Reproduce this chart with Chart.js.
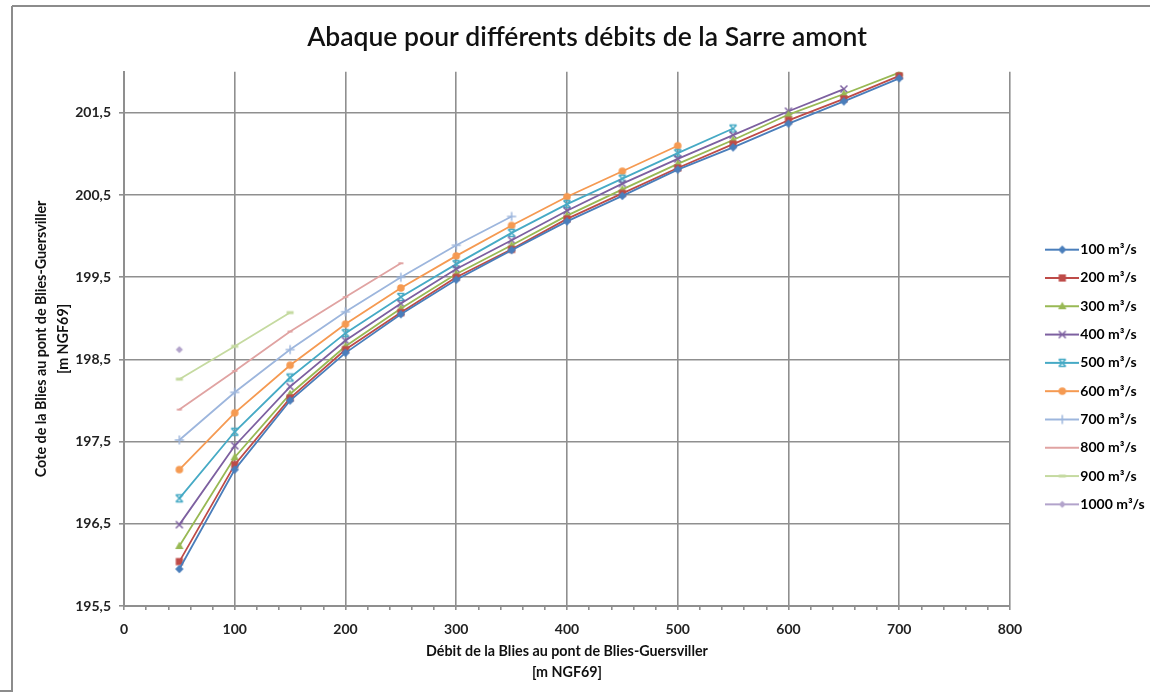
<!DOCTYPE html>
<html><head><meta charset="utf-8">
<script src="https://cdn.jsdelivr.net/npm/chart.js@4/dist/chart.umd.min.js"></script>
<style>html,body{margin:0;padding:0;background:#fff}#wrap{width:1150px;height:694px}</style>
</head><body><div id="wrap"><canvas id="c" width="1150" height="694"></canvas></div>
<script>
// ---- data ----
const flows = [50, 100, 150, 200, 250, 300, 350, 400, 450, 500, 550, 600, 650, 700];
const seriesLabels = ['100 m³/s', '200 m³/s', '300 m³/s', '400 m³/s', '500 m³/s', '600 m³/s', '700 m³/s', '800 m³/s', '900 m³/s', '1000 m³/s'];
const s100 = [195.95, 197.16, 198.00, 198.58, 199.05, 199.47, 199.83, 200.18, 200.49, 200.81, 201.08, 201.37, 201.64, 201.92];
const s200 = [196.04, 197.22, 198.03, 198.62, 199.07, 199.50, 199.84, 200.21, 200.52, 200.83, 201.12, 201.41, 201.67, 201.95];
const s300 = [196.23, 197.31, 198.08, 198.66, 199.12, 199.54, 199.89, 200.25, 200.57, 200.88, 201.17, 201.48, 201.73, 201.99];
const s400 = [196.49, 197.45, 198.17, 198.73, 199.18, 199.60, 199.95, 200.31, 200.64, 200.94, 201.23, 201.52, 201.79];
const s500 = [196.81, 197.62, 198.28, 198.82, 199.26, 199.66, 200.04, 200.39, 200.70, 201.01, 201.31];
const s600 = [197.16, 197.85, 198.43, 198.93, 199.37, 199.76, 200.13, 200.48, 200.79, 201.10];
const s700 = [197.52, 198.10, 198.62, 199.08, 199.50, 199.89, 200.24];
const s800 = [197.89, 198.36, 198.84, 199.26, 199.67];
const s900 = [198.26, 198.66, 199.07];
const s1000 = [198.62];
const seriesValues = [s100, s200, s300, s400, s500, s600, s700, s800, s900, s1000];
const yTickValues = [195.5, 196.5, 197.5, 198.5, 199.5, 200.5, 201.5];
const titleText = 'Abaque pour différents débits de la Sarre amont';
const xTitle = ['Débit de la Blies au pont de Blies-Guersviller', '[m NGF69]'];
const yTitle = ['Cote de la Blies au pont de Blies-Guersviller', '[m NGF69]'];

// ---- styles ----
const colors = ['#4a7ebb', '#be4b48', '#98b954', '#7d60a0', '#46aac5', '#f59a52', '#9db6dd', '#e0a3a2', '#c5daa0', '#b2a3cb'];
const markers = ['diamond', 'square', 'triangle', 'x', 'star', 'circle', 'plus', 'dash', 'longdash', 'smalldiamond'];
const FONT = 'Lato, "Open Sans", sans-serif';
const GRID = '#8f8f8f';
const LEGEND_W = 140, LEGEND_LEFT = 1037, LEGEND_SHIFT = 31;

function drawMarker(g, kind, cx, cy, color) {
  g.fillStyle = color; g.strokeStyle = color; g.lineWidth = 1.5;
  g.beginPath();
  switch (kind) {
    case 'diamond': g.moveTo(cx, cy - 4.2); g.lineTo(cx + 4.2, cy); g.lineTo(cx, cy + 4.2); g.lineTo(cx - 4.2, cy); g.closePath(); g.fill(); break;
    case 'smalldiamond': g.moveTo(cx, cy - 3.6); g.lineTo(cx + 3.6, cy); g.lineTo(cx, cy + 3.6); g.lineTo(cx - 3.6, cy); g.closePath(); g.fill(); break;
    case 'square': g.rect(cx - 3.6, cy - 3.6, 7.2, 7.2); g.fill(); break;
    case 'triangle': g.moveTo(cx, cy - 4.5); g.lineTo(cx + 4.2, cy + 3); g.lineTo(cx - 4.2, cy + 3); g.closePath(); g.fill(); break;
    case 'x': g.moveTo(cx - 3.5, cy - 3.5); g.lineTo(cx + 3.5, cy + 3.5); g.moveTo(cx + 3.5, cy - 3.5); g.lineTo(cx - 3.5, cy + 3.5); g.stroke(); break;
    case 'star': g.moveTo(cx - 3.5, cy - 3.5); g.lineTo(cx + 3.5, cy + 3.5); g.moveTo(cx + 3.5, cy - 3.5); g.lineTo(cx - 3.5, cy + 3.5);
      g.moveTo(cx - 3.5, cy - 3.5); g.lineTo(cx + 3.5, cy - 3.5); g.moveTo(cx - 3.5, cy + 3.5); g.lineTo(cx + 3.5, cy + 3.5); g.stroke(); break;
    case 'circle': g.arc(cx, cy, 3.8, 0, Math.PI * 2); g.fill(); break;
    case 'plus': g.moveTo(cx - 4.5, cy); g.lineTo(cx + 4.5, cy); g.moveTo(cx, cy - 4.5); g.lineTo(cx, cy + 4.5); g.stroke(); break;
    case 'dash': g.rect(cx - 2.5, cy - 1, 5, 2); g.fill(); break;
    case 'longdash': g.rect(cx - 3.5, cy - 1.5, 7, 3); g.fill(); break;
  }
}
function markerImage(kind, color) {
  const c = document.createElement('canvas'); c.width = 12; c.height = 12;
  drawMarker(c.getContext('2d'), kind, 6, 6, color); return c;
}
function legendImage(kind, color) {
  const c = document.createElement('canvas'); c.width = 34; c.height = 12;
  const g = c.getContext('2d');
  g.strokeStyle = color; g.lineWidth = 2; g.beginPath(); g.moveTo(0, 6); g.lineTo(34, 6); g.stroke();
  drawMarker(g, kind, 17, 6, color); return c;
}

const datasets = seriesValues.map((vals, i) => ({
  label: seriesLabels[i],
  data: vals.map((v, k) => ({ x: flows[k], y: v })),
  borderColor: colors[i], backgroundColor: colors[i], borderWidth: 1.8,
  pointStyle: markerImage(markers[i], colors[i]), pointRadius: 4, tension: 0, fill: false
}));
const legendImgs = markers.map((m, i) => legendImage(m, colors[i]));

const framePlugin = {
  id: 'frame',
  afterInit(chart) {
    const lg = chart.legend;
    if (lg) {
      const orig = lg.fit.bind(lg);
      lg.fit = function () { orig(); this.width = LEGEND_W; };
    }
  },
  afterLayout(chart) {
    const lg = chart.legend;
    if (lg) {
      const w = lg.right - LEGEND_LEFT; lg.left = LEGEND_LEFT; lg.width = w;
      lg.top += LEGEND_SHIFT; lg.bottom += LEGEND_SHIFT;
    }
  },
  beforeDraw(chart) {
    const g = chart.ctx; g.save();
    g.fillStyle = '#fff'; g.fillRect(0, 0, chart.width, chart.height);
    g.strokeStyle = '#8c8c8c'; g.lineWidth = 2; g.beginPath();
    g.moveTo(12, 6); g.lineTo(1150, 6); g.moveTo(12, 6); g.lineTo(12, 692); g.moveTo(0, 691); g.lineTo(12, 691);
    g.stroke(); g.restore();
  }
};

new Chart(document.getElementById('c'), {
  type: 'line',
  data: { datasets },
  plugins: [framePlugin],
  options: {
    responsive: false, animation: false,
    layout: { padding: { left: 24, top: 6, right: 0, bottom: 8 } },
    plugins: {
      tooltip: { enabled: false },
      title: { display: true, text: titleText, color: '#111', font: { family: FONT, size: 26.5, weight: '600' }, padding: { top: 16, bottom: 18 } },
      legend: {
        position: 'right',
        labels: {
          usePointStyle: true, pointStyleWidth: 22, padding: 14.3, color: '#222',
          font: { family: FONT, size: 14, weight: 'bold' },
          generateLabels: (chart) => seriesLabels.map((t, i) => ({
            text: t, pointStyle: legendImgs[i], fillStyle: colors[i], strokeStyle: colors[i], lineWidth: 0, hidden: false, datasetIndex: i
          }))
        }
      }
    },
    scales: {
      x: {
        type: 'linear', min: 0, max: 800,
        ticks: { stepSize: 20, autoSkip: false, maxRotation: 0, padding: 11, color: '#222', font: { family: FONT, size: 14, weight: 'bold' },
          callback: (v) => (v % 100 === 0 ? String(v) : '') },
        grid: { color: (c) => (c.tick && c.tick.value % 100 === 0 ? GRID : 'rgba(0,0,0,0)'), tickColor: GRID, tickLength: 4, lineWidth: 1.6 },
        border: { color: GRID, width: 2 },
        title: { display: true, text: xTitle, color: '#111', font: { family: FONT, size: 14.3, weight: 'bold', lineHeight: 1.5 }, padding: { top: 4, bottom: 2.5 } },
        afterFit: (s) => { s.height = 80; }
      },
      y: {
        type: 'linear', min: 195.5, max: 202,
        afterBuildTicks: (s) => { s.ticks = yTickValues.map((v) => ({ value: v })); },
        ticks: { padding: 8, color: '#222', font: { family: FONT, size: 14, weight: 'bold' },
          callback: (v) => v.toFixed(1).replace('.', ',') },
        grid: { color: GRID, tickColor: GRID, tickLength: 5, lineWidth: 1.6 },
        border: { color: GRID, width: 2 },
        title: { display: true, text: yTitle, color: '#111', font: { family: FONT, size: 14.3, weight: 'bold', lineHeight: 1.5 }, padding: { top: 7, bottom: 4 } },
        afterFit: (s) => { s.width = 100; }
      }
    }
  }
});
</script></body></html>
